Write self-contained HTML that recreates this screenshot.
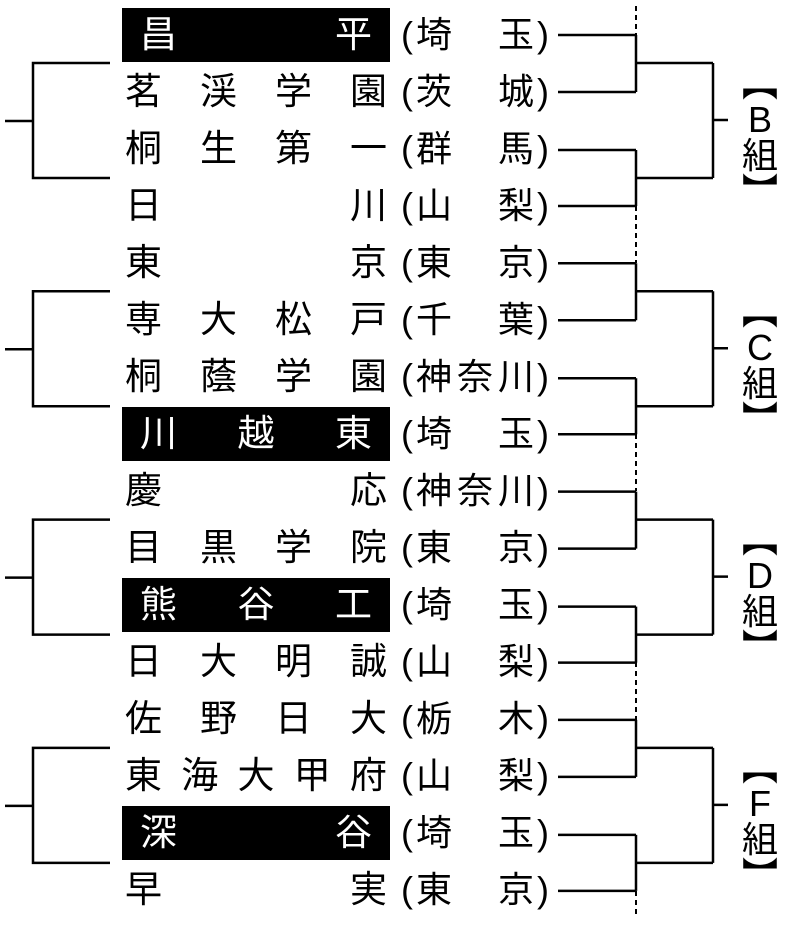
<!DOCTYPE html>
<html><head><meta charset="utf-8"><style>
body{margin:0;width:800px;height:926px;background:#fff;position:relative;overflow:hidden;font-family:"Liberation Sans","Noto Sans CJK JP",sans-serif;color:#000}
.n{position:absolute;left:122px;width:268px;height:54px;display:flex;justify-content:space-between;align-items:center;font-size:37px;line-height:54px;padding:0 3px;box-sizing:border-box}
.n.h{background:#000;color:#fff;padding:0 18px}
.p{position:absolute;left:398px;width:154px;height:54px;display:flex;align-items:center;font-size:36px;line-height:54px}
.p .o{width:18px;text-align:center}
.p .c{flex:1;display:flex;justify-content:space-between}
.g{position:absolute;left:740px;width:40px;font-size:36px;line-height:36px;text-align:center}
</style></head><body>
<svg width="800" height="926" style="position:absolute;left:0;top:0" fill="none" stroke="#000" stroke-width="2.5">
<path d="M558 35H636M558 92H636M636 35V92M636 63H713M558 150H636M558 206H636M636 150V206M636 178H713M713 63V178M713 120H728"/>
<path transform="translate(0,228.3)" d="M558 35H636M558 92H636M636 35V92M636 63H713M558 150H636M558 206H636M636 150V206M636 178H713M713 63V178M713 120H728"/>
<path transform="translate(0,456.6)" d="M558 35H636M558 92H636M636 35V92M636 63H713M558 150H636M558 206H636M636 150V206M636 178H713M713 63V178M713 120H728"/>
<path transform="translate(0,684.9)" d="M558 35H636M558 92H636M636 35V92M636 63H713M558 150H636M558 206H636M636 150V206M636 178H713M713 63V178M713 120H728"/>
<path d="M110 63H33V178H110M33 121H5"/>
<path transform="translate(0,228.3)" d="M110 63H33V178H110M33 121H5"/>
<path transform="translate(0,456.6)" d="M110 63H33V178H110M33 121H5"/>
<path transform="translate(0,684.9)" d="M110 63H33V178H110M33 121H5"/>
<g stroke-dasharray="5,4" stroke-width="2">
<path d="M636 6V35M636 206V263M636 434V491M636 662V720M636 891V916"/>
</g>
</svg>

<div class="n h" style="top:8px"><span>昌</span><span>平</span></div>
<div class="p" style="top:8px"><span class="o">(</span><span class="c"><span>埼</span><span>玉</span></span><span class="o">)</span></div>

<div class="n" style="top:65px"><span>茗</span><span>渓</span><span>学</span><span>園</span></div>
<div class="p" style="top:65px"><span class="o">(</span><span class="c"><span>茨</span><span>城</span></span><span class="o">)</span></div>

<div class="n" style="top:122px"><span>桐</span><span>生</span><span>第</span><span>一</span></div>
<div class="p" style="top:122px"><span class="o">(</span><span class="c"><span>群</span><span>馬</span></span><span class="o">)</span></div>

<div class="n" style="top:179px"><span>日</span><span>川</span></div>
<div class="p" style="top:179px"><span class="o">(</span><span class="c"><span>山</span><span>梨</span></span><span class="o">)</span></div>

<div class="n" style="top:236px"><span>東</span><span>京</span></div>
<div class="p" style="top:236px"><span class="o">(</span><span class="c"><span>東</span><span>京</span></span><span class="o">)</span></div>

<div class="n" style="top:293px"><span>専</span><span>大</span><span>松</span><span>戸</span></div>
<div class="p" style="top:293px"><span class="o">(</span><span class="c"><span>千</span><span>葉</span></span><span class="o">)</span></div>

<div class="n" style="top:350px"><span>桐</span><span>蔭</span><span>学</span><span>園</span></div>
<div class="p" style="top:350px"><span class="o">(</span><span class="c"><span>神</span><span>奈</span><span>川</span></span><span class="o">)</span></div>

<div class="n h" style="top:407px"><span>川</span><span>越</span><span>東</span></div>
<div class="p" style="top:407px"><span class="o">(</span><span class="c"><span>埼</span><span>玉</span></span><span class="o">)</span></div>

<div class="n" style="top:464px"><span>慶</span><span>応</span></div>
<div class="p" style="top:464px"><span class="o">(</span><span class="c"><span>神</span><span>奈</span><span>川</span></span><span class="o">)</span></div>

<div class="n" style="top:521px"><span>目</span><span>黒</span><span>学</span><span>院</span></div>
<div class="p" style="top:521px"><span class="o">(</span><span class="c"><span>東</span><span>京</span></span><span class="o">)</span></div>

<div class="n h" style="top:578px"><span>熊</span><span>谷</span><span>工</span></div>
<div class="p" style="top:578px"><span class="o">(</span><span class="c"><span>埼</span><span>玉</span></span><span class="o">)</span></div>

<div class="n" style="top:635px"><span>日</span><span>大</span><span>明</span><span>誠</span></div>
<div class="p" style="top:635px"><span class="o">(</span><span class="c"><span>山</span><span>梨</span></span><span class="o">)</span></div>

<div class="n" style="top:692px"><span>佐</span><span>野</span><span>日</span><span>大</span></div>
<div class="p" style="top:692px"><span class="o">(</span><span class="c"><span>栃</span><span>木</span></span><span class="o">)</span></div>

<div class="n" style="top:749px"><span>東</span><span>海</span><span>大</span><span>甲</span><span>府</span></div>
<div class="p" style="top:749px"><span class="o">(</span><span class="c"><span>山</span><span>梨</span></span><span class="o">)</span></div>

<div class="n h" style="top:806px"><span>深</span><span>谷</span></div>
<div class="p" style="top:806px"><span class="o">(</span><span class="c"><span>埼</span><span>玉</span></span><span class="o">)</span></div>

<div class="n" style="top:863px"><span>早</span><span>実</span></div>
<div class="p" style="top:863px"><span class="o">(</span><span class="c"><span>東</span><span>京</span></span><span class="o">)</span></div>

<div class="g" style="top:66px">︻<br>B<br>組<br>︼</div>
<div class="g" style="top:294px">︻<br>C<br>組<br>︼</div>
<div class="g" style="top:522px">︻<br>D<br>組<br>︼</div>
<div class="g" style="top:750px">︻<br>F<br>組<br>︼</div>
</body></html>
